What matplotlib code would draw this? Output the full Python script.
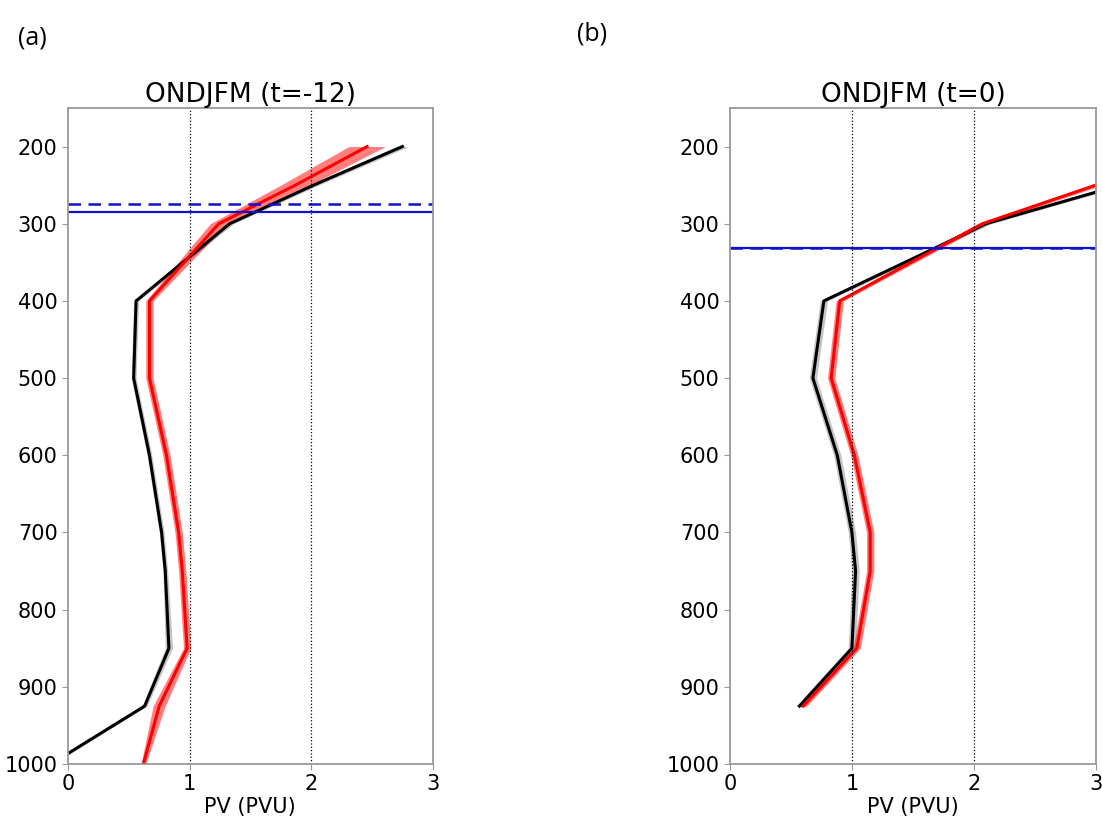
import numpy as np
import matplotlib
matplotlib.use("Agg")
import matplotlib.pyplot as plt

# pressure levels (hPa)
lev_a = [200, 250, 300, 400, 500, 600, 700, 750, 850, 925, 1000]
lev_b = [200, 250, 300, 400, 500, 600, 700, 750, 850, 925]

# panel (a) ONDJFM t=-12
black_a = [2.75, 2.02, 1.33, 0.56, 0.54, 0.67, 0.77, 0.80, 0.83, 0.63, -0.14]
black_a_sd = [0.05, 0.04, 0.03, 0.02, 0.02, 0.02, 0.02, 0.02, 0.03, 0.02, 0.02]
red_a = [2.46, 1.87, 1.24, 0.67, 0.67, 0.81, 0.91, 0.94, 0.98, 0.75, 0.62]
red_a_sd = [0.15, 0.12, 0.07, 0.03, 0.03, 0.03, 0.03, 0.03, 0.03, 0.05, 0.02]
trop_a_dash = 275
trop_a_solid = 285

# panel (b) ONDJFM t=0
black_b = [4.35, 3.2, 2.10, 0.77, 0.68, 0.88, 1.00, 1.03, 1.00, 0.57]
black_b_sd = [0.06, 0.05, 0.04, 0.03, 0.03, 0.03, 0.03, 0.03, 0.03, 0.03]
red_b = [4.0, 3.0, 2.07, 0.90, 0.83, 1.02, 1.15, 1.15, 1.04, 0.60]
red_b_sd = [0.06, 0.05, 0.04, 0.03, 0.03, 0.03, 0.03, 0.03, 0.03, 0.03]
trop_b_dash = 331
trop_b_solid = 332

titles = ["ONDJFM (t=-12)", "ONDJFM (t=0)"]

fig = plt.figure(figsize=(11.02, 8.16), dpi=100)
ax1 = fig.add_axes([0.0617, 0.0637, 0.331, 0.804])
ax2 = fig.add_axes([0.6624, 0.0637, 0.332, 0.804])

panels = [
    (ax1, lev_a, black_a, black_a_sd, red_a, red_a_sd, trop_a_dash, trop_a_solid),
    (ax2, lev_b, black_b, black_b_sd, red_b, red_b_sd, trop_b_dash, trop_b_solid),
]

for i, (ax, lev, bk, bsd, rd, rsd, td, ts) in enumerate(panels):
    lev = np.array(lev)
    bk, bsd, rd, rsd = map(np.array, (bk, bsd, rd, rsd))
    ax.fill_betweenx(lev, bk - bsd, bk + bsd, color='gray', alpha=0.45, lw=0)
    ax.fill_betweenx(lev, rd - rsd, rd + rsd, color='red', alpha=0.5, lw=0)
    ax.plot(bk, lev, color='black', lw=2.2)
    ax.plot(rd, lev, color='red', lw=2.2)
    ax.axhline(ts, color='#1010d0', lw=1.6)
    ax.axhline(td, color='#1010d0', lw=1.8, ls='--', dashes=(5, 3))
    for xv in [1, 2]:
        ax.axvline(xv, color='black', lw=0.9, ls=':')
    ax.set_xlim(0, 3)
    ax.set_ylim(1000, 150)
    ax.set_xticks([0, 1, 2, 3])
    ax.set_yticks(np.arange(200, 1001, 100))
    ax.tick_params(labelsize=15, color='#999999', length=4)
    for s in ax.spines.values():
        s.set_color('#999999')
        s.set_linewidth(1.3)
    ax.set_title(titles[i], fontsize=19, pad=4)
    ax.set_xlabel('PV (PVU)', fontsize=15, labelpad=2)

fig.text(0.016, 0.945, '(a)', fontsize=18, family='Open Sans')
fig.text(0.524, 0.950, '(b)', fontsize=18, family='Open Sans')

fig.savefig('out.png', dpi=100)
